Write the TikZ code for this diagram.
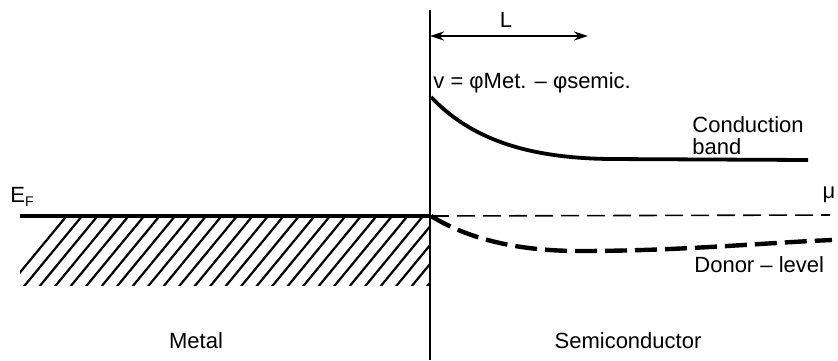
\documentclass[tikz,border=0pt]{standalone}
\usepackage{fontspec}
\setmainfont{Liberation Sans}
\usetikzlibrary{arrows.meta}
\begin{document}
\begin{tikzpicture}[x=0.5pt,y=-0.5pt,
  lbl/.style={inner sep=0pt,font=\fontsize{11}{13}\selectfont},
  band/.style={line width=1.9pt},
  donor/.style={line width=2.2pt,dash pattern=on 11pt off 4pt},
  mu/.style={line width=0.8pt,dash pattern=on 9pt off 4pt},
  hatch/.style={line width=1.1pt}]
\useasboundingbox (0,0) rectangle (838,360);
% hatching of the metal
\begin{scope}
\clip (20,216) rectangle (430,285);
\foreach \i in {0,...,30}{
  \draw[hatch] (8+\i*15.5,287) -- ++(66,-80);
}
\end{scope}
% Fermi level line in metal
\coordinate (ml) at (20,216);
\coordinate (j) at (431,216);
\draw[line width=1.7pt] (ml) -- (j);
% interface
\coordinate (vt) at (430,10);
\coordinate (vb) at (430,360);
\draw[line width=1.2pt] (vt) -- (vb);
% L arrow
\coordinate (La) at (430,36);
\coordinate (Lb) at (588,36);
\draw[line width=1pt,{Stealth[length=7pt,width=4.5pt]}-{Stealth[length=7pt,width=4.5pt]}] (La) -- (Lb);
\node[lbl] (L) at (506,20) {L};
% conduction band
\coordinate (cb0) at (431,97);
\coordinate (cb1) at (610,159);
\coordinate (cb2) at (808,160);
\draw[band] (cb0) .. controls (470,138) and (525,158) .. (cb1) -- (cb2);
% mu line
\coordinate (mu1) at (830,215);
\draw[mu] (j) -- (mu1);
% donor level
\coordinate (d1) at (580,251);
\coordinate (d2) at (832,240);
\draw[donor] (j) .. controls (470,240) and (520,251) .. (d1) .. controls (680,251) and (760,243) .. (d2);
% labels
\node[lbl,anchor=west] (v) at (433,83) {v = φMet. – φsemic.};
\node[lbl,anchor=west,align=left] (cbl) at (692,136) {Conduction\\[-2pt]band};
\node[lbl] (muL) at (829,195) {μ};
\node[lbl,anchor=west] (EF) at (10,197) {E\raisebox{-0.35ex}{\fontsize{7}{8}\selectfont F}};
\node[lbl,anchor=west] (dl) at (694,265) {Donor – level};
\node[lbl] (metal) at (196,341) {Metal};
\node[lbl] (semi) at (628,341) {Semiconductor};
\end{tikzpicture}
\end{document}
